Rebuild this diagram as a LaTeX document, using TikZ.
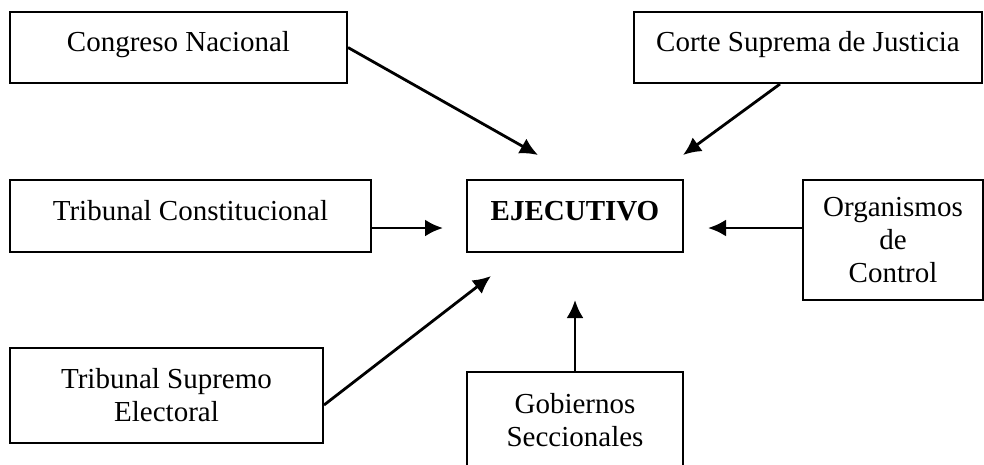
\documentclass[tikz,border=0pt]{standalone}
\usepackage{fontspec}
\setmainfont{Liberation Serif}
\usepackage{tikz}
\usetikzlibrary{arrows.meta}
\usetikzlibrary{calc}
\tikzstyle{block} = [draw, line width=2pt, rectangle, align=center, inner sep=0pt, font=\fontsize{29}{33}\selectfont]
\tikzstyle{single} = [text height=20pt, text depth=12pt]
\tikzstyle{line} = [draw, line width=2.8pt, -{Latex[length=18pt,width=17pt]}]

\begin{document}
\begin{tikzpicture}[x=1pt, y=-1pt]
	\clip (0,0) rectangle (984,464);
	% cajas
	\node[block, single, minimum width=337pt, minimum height=71pt] (congreso) at (178.5,47.5) {Congreso Nacional};
	\node[block, single, minimum width=348pt, minimum height=71pt] (corte) at (808,47.5) {Corte Suprema de Justicia};
	\node[block, single, minimum width=361pt, minimum height=72pt] (tc) at (190.5,216) {Tribunal Constitucional};
	\node[block, single, minimum width=216pt, minimum height=72pt] (ejecutivo) at (575,216) {\textbf{EJECUTIVO}};
	\node[block, minimum width=180pt, minimum height=120pt] (oc) at (893,240) {Organismos\\de\\Control};
	\node[block, minimum width=313pt, minimum height=95pt] (tse) at (166.5,395.5) {Tribunal Supremo\\Electoral};
	\node[block, minimum width=216pt, minimum height=96pt] (gs) at (575,420) {Gobiernos\\Seccionales};
	% puntas de flecha
	\coordinate (pCN) at (538,155);
	\coordinate (pCS) at (683,155);
	\coordinate (pTC) at (443,228);
	\coordinate (pOC) at (708,228);
	\coordinate (pTSE) at (491,276);
	\coordinate (pGS) at (575,300);
	\draw[line] (congreso.east) -- (pCN);
	\draw[line] ($(corte.south)+(-28,0)$) -- (pCS);
	\draw[line] ($(tc.east)+(0,12)$) -- (pTC);
	\draw[line] ($(oc.west)+(0,-12)$) -- (pOC);
	\draw[line] ($(tse.east)+(0,9.5)$) -- (pTSE);
	\draw[line] (gs.north) -- (pGS);
\end{tikzpicture}
\end{document}
